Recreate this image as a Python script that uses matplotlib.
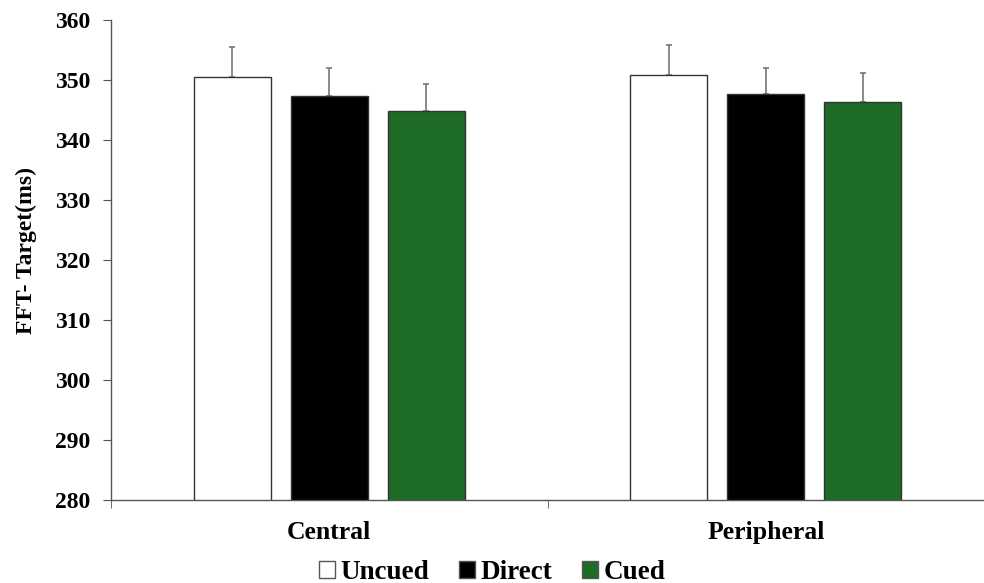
import numpy as np
import matplotlib.pyplot as plt
from matplotlib.patches import Patch

plt.rcParams['font.family'] = ['Liberation Serif', 'DejaVu Serif']
plt.rcParams['font.weight'] = 'bold'

conditions = ['Central', 'Peripheral']
cue_types = ['Uncued', 'Direct', 'Cued']
means = {
    'Uncued': [350.5, 350.9],
    'Direct': [347.4, 347.6],
    'Cued': [344.8, 346.4],
}
errors = {
    'Uncued': [5.0, 5.0],
    'Direct': [4.6, 4.4],
    'Cued': [4.6, 4.8],
}
colors = {'Uncued': 'white', 'Direct': 'black', 'Cued': '#1e6b26'}

fig = plt.figure(figsize=(9.84, 5.83), dpi=100)
ax = fig.add_axes([111 / 984, 83 / 583, 873 / 984, 480 / 583])

x = np.arange(len(conditions))
width = 0.176
gap = 0.046
for i, cue in enumerate(cue_types):
    pos = x + (i - 1) * (width + gap)
    ax.bar(pos, means[cue], width, bottom=0, color=colors[cue],
           edgecolor='#333333', linewidth=1.0, zorder=2)
    ax.errorbar(pos, means[cue], yerr=[np.zeros(2), errors[cue]], fmt='none',
                ecolor='#777777', elinewidth=1.2, capsize=2.5, capthick=1.2, zorder=1)

ax.set_xlim(-0.5, 1.5)
ax.set_ylim(280, 360)
ax.set_yticks(np.arange(280, 361, 10))
ax.set_xticks(x)
ax.set_xticklabels(conditions, fontsize=18.5, fontweight='bold')
ax.tick_params(axis='x', length=0, pad=15)
ax.set_xticks([-0.5, 0.5, 1.5], minor=True)
ax.tick_params(axis='x', which='minor', length=6, color='#555555')
ax.tick_params(axis='y', labelsize=17, length=6, color='#555555', pad=9)
for lbl in ax.get_yticklabels():
    lbl.set_fontweight('bold')
ax.set_ylabel('FFT- Target(ms)', fontsize=17, fontweight='bold')
ax.yaxis.set_label_coords(-0.085, 0.52)

for side in ['top', 'right']:
    ax.spines[side].set_visible(False)
for side in ['left', 'bottom']:
    ax.spines[side].set_color('#555555')
    ax.spines[side].set_linewidth(1.0)

handles = [Patch(facecolor=colors[c], edgecolor='#555555', label=c) for c in cue_types]
fig.legend(handles=handles, loc='lower center', ncol=3, frameon=False,
           bbox_to_anchor=(0.5, -0.045), handlelength=0.6, handleheight=0.6,
           handletextpad=0.2, columnspacing=1.1,
           prop={'family': 'Liberation Serif', 'weight': 'bold', 'size': 19.5})

fig.savefig('out.png', dpi=100)
